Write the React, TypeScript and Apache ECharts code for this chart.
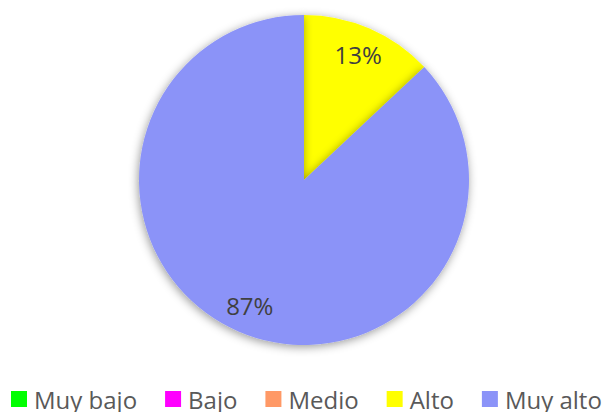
import React, { useEffect, useRef } from "react";
import * as echarts from "echarts";

const categories = ["Muy bajo", "Bajo", "Medio", "Alto", "Muy alto"];
const values = [0, 0, 0, 13, 87];
const colors = ["#00FF00", "#FF00FF", "#FF9966", "#FFFF00", "#8B93F8"];

export default function App() {
  const ref = useRef<HTMLDivElement>(null);
  useEffect(() => {
    if (!ref.current) return;
    const chart = echarts.init(ref.current, undefined, { renderer: "svg" });
    const data = categories.map((name, i) => ({
      name,
      value: values[i],
      itemStyle: { color: colors[i] },
    }));
    chart.setOption({
      animation: false,
      backgroundColor: "#ffffff",
      legend: {
        left: 11,
        top: 387,
        icon: "rect",
        itemWidth: 16,
        itemHeight: 16,
        itemGap: 28,
        padding: 0,
        data: categories,
        textStyle: {
          fontFamily: "Open Sans",
          fontSize: 24,
          lineHeight: 16,
          color: "#595959",
          padding: [0, 0, 0, 2],
        },
        selectedMode: false,
      },
      series: [
        {
          type: "pie",
          center: [304, 180],
          radius: [0, 165],
          startAngle: 90,
          clockwise: true,
          label: { show: false },
          labelLine: { show: false },
          itemStyle: {
            shadowBlur: 10,
            shadowColor: "rgba(0,0,0,0.4)",
            shadowOffsetX: -1,
            shadowOffsetY: 2,
          },
          emphasis: { disabled: true },
          data,
        },
        {
          type: "pie",
          center: [304, 180],
          radius: [102, 165],
          startAngle: 90,
          clockwise: true,
          silent: true,
          itemStyle: { color: "transparent" },
          label: {
            show: true,
            position: "inside",
            fontFamily: "Open Sans",
            fontSize: 24,
            color: "#404040",
            formatter: (p: any) => (p.value > 0 ? Math.round(p.percent) + "%" : ""),
          },
          labelLine: { show: false },
          emphasis: { disabled: true },
          data: categories.map((name, i) => ({ name, value: values[i] })),
        },
      ],
    });
    return () => chart.dispose();
  }, []);
  return (
    <div
      ref={ref}
      style={{ position: "absolute", left: 0, top: 0, width: 611, height: 412 }}
    />
  );
}
